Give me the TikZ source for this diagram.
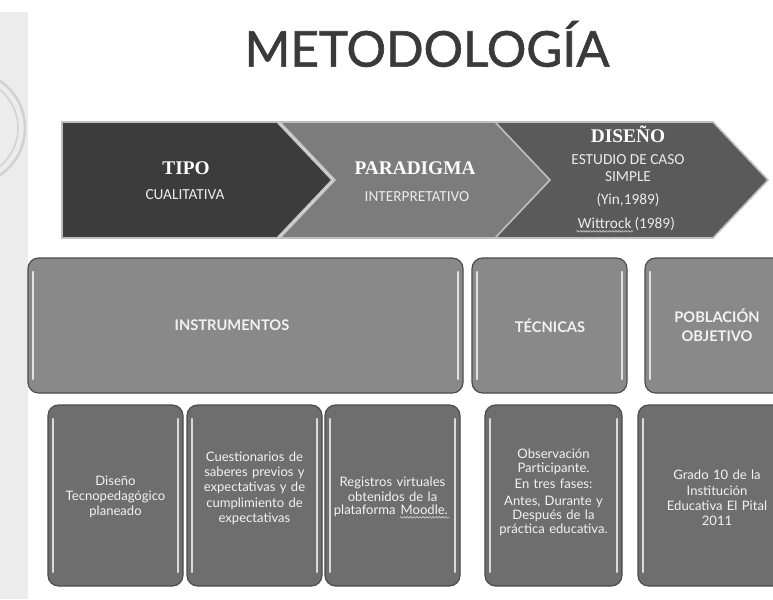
\documentclass[tikz,border=0pt]{standalone}
\usepackage{fontspec}
\usetikzlibrary{decorations.pathmorphing}
\setmainfont{Lato}
\newfontfamily\titlefont[FakeBold=1.2]{Lato}
\newfontfamily\headfont{Liberation Serif}
\newfontfamily\capsfont{Carlito}

\definecolor{stripgray}{RGB}{236,236,236}
\definecolor{arcgray}{RGB}{210,210,210}
\definecolor{titlegray}{RGB}{58,58,58}
\definecolor{chevA}{RGB}{60,60,60}
\definecolor{chevB}{RGB}{124,124,124}
\definecolor{chevC}{RGB}{90,90,90}
\definecolor{boxmid}{RGB}{137,137,137}
\definecolor{boxlow}{RGB}{110,110,110}

\tikzset{every picture/.style={line width=0.75pt}}
\tikzset{
  chev/.style={draw=black!25, line width=1.2},
  glass/.style={draw=black!70, line width=0.9, rounded corners=8pt},
  shine/.style={draw=white, line width=1.6, line cap=round, opacity=0.75},
  squig/.style={draw=white!80!black, line width=0.5, decorate, decoration={snake, amplitude=0.6pt, segment length=2.4pt}},
  headtxt/.style={inner sep=0.75pt, text=white, font=\headfont\bfseries\fontsize{14.5}{16}\selectfont},
  subtxt/.style={inner sep=0.75pt, text=white!92!black, font=\capsfont\fontsize{11.5}{13}\selectfont, align=center},
  midtxt/.style={inner sep=0.75pt, text=white!95!black, font=\bfseries\fontsize{11}{14}\selectfont, align=center},
  lowtxt/.style={inner sep=0.75pt, text=white!95!black, font=\fontsize{9.8}{11.5}\selectfont, align=center, text width=100pt},
  lowword/.style={inner sep=0.75pt, text=white!95!black, font=\fontsize{9.8}{11.5}\selectfont}
}

\begin{document}
\begin{tikzpicture}[x=0.75pt,y=0.75pt,yscale=-1,xscale=1]
\clip (0,0) rectangle (773,599);
\fill[white] (0,0) rectangle (773,599);

%Shape: side strip
\fill[stripgray] (0,12) rectangle (28,599);
\begin{scope}
  \clip (0,12) rectangle (28,599);
  \draw[arcgray, line width=1.2] (-32,128) circle (50);
  \draw[arcgray, line width=2] (-32,128) circle (57);
\end{scope}

%Title
\node (titulo) at (427,44) [inner sep=0.75pt, text=titlegray, font=\titlefont\fontsize{37}{40}\selectfont] {METODOLOGÍA};

%Shape: Chevrons
\draw[chev, fill=chevA] (62,122) -- (277,122) -- (332,180) -- (277,238) -- (62,238) -- cycle ;
\draw[chev, fill=chevB] (280,122) -- (497,122) -- (552,180) -- (497,238) -- (280,238) -- (335,180) -- cycle ;
\draw[chev, fill=chevC] (495,122) -- (713,122) -- (768,180) -- (713,238) -- (495,238) -- (550,180) -- cycle ;

\node (tipo) at (186,168) [headtxt] {TIPO};
\node (cualit) at (185,195) [subtxt] {CUALITATIVA};
\node (paradigma) at (415,168) [headtxt] {PARADIGMA};
\node (interp) at (417,197) [subtxt] {INTERPRETATIVO};
\node (diseno) at (628,134) [headtxt] {DISEÑO};
\node (estudio) at (628,168) [subtxt] {ESTUDIO DE CASO\\SIMPLE};
\node (yin) at (628,200) [subtxt] {(Yin,1989)};
\node (witt) at (633,228) [subtxt, anchor=base east] {Wittrock};
\node (wyear) at (witt.base east) [subtxt, anchor=base west] {(1989)};
\draw[squig] ([yshift=2.5]witt.base west) -- ([yshift=2.5]witt.base east) ;

%Shape: Rounded boxes, middle row
\draw[glass, fill=boxmid] (28,258) rectangle (463,393) ;
\draw[shine] (33,272) -- (33,379) ;
\draw[shine] (458,272) -- (458,379) ;
\draw[glass, fill=boxmid] (472,258) rectangle (627,393) ;
\draw[shine] (477,272) -- (477,379) ;
\draw[shine] (622,272) -- (622,379) ;
\draw[glass, fill=boxmid] (645,258) rectangle (790,393) ;
\draw[shine] (650,272) -- (650,379) ;

\node (instr) at (232,325) [midtxt] {INSTRUMENTOS};
\node (tecn) at (550,326) [midtxt] {TÉCNICAS};
\node (pobl) at (717,325) [midtxt] {POBLACIÓN\\OBJETIVO};

%Shape: Rounded boxes, lower row
\draw[glass, fill=boxlow] (48,405) rectangle (183,586) ;
\draw[shine] (53,419) -- (53,572) ;
\draw[shine] (178,419) -- (178,572) ;
\draw[glass, fill=boxlow] (187,405) rectangle (322,586) ;
\draw[shine] (192,419) -- (192,572) ;
\draw[shine] (317,419) -- (317,572) ;
\draw[glass, fill=boxlow] (325,405) rectangle (460,586) ;
\draw[shine] (330,419) -- (330,572) ;
\draw[shine] (455,419) -- (455,572) ;
\draw[glass, fill=boxlow] (485,405) rectangle (622,586) ;
\draw[shine] (490,419) -- (490,572) ;
\draw[shine] (617,419) -- (617,572) ;
\draw[glass, fill=boxlow] (638,405) rectangle (796,586) ;
\draw[shine] (643,419) -- (643,572) ;

\node (disenotec) at (115.5,497) [lowtxt] {Diseño\\Tecnopedagógico\\planeado};
\node (cuest) at (254.5,488) [lowtxt] {Cuestionarios de\\saberes previos y\\expectativas y de\\cumplimiento de\\expectativas};
\node (regis) at (392.5,489) [lowtxt] {Registros virtuales\\obtenidos de la};
\node (plat) at (397,514) [lowword, anchor=base east] {plataforma};
\node (moodle) at (plat.base east) [lowword, anchor=base west] {\,Moodle.};
\draw[squig] ([yshift=2.5]moodle.base west) ++(3,0) -- ([yshift=2.5]moodle.base east) ;
\node (obs) at (553.5,492) [lowtxt, font=\fontsize{9.8}{10.5}\selectfont] {Observación\\Participante.\\[2pt]En tres fases:\\[2pt]Antes, Durante y\\Después de la\\práctica educativa.};
\node (grado) at (717,498) [lowtxt] {Grado 10 de la\\Institución\\Educativa El Pital\\2011};

\end{tikzpicture}
\end{document}
